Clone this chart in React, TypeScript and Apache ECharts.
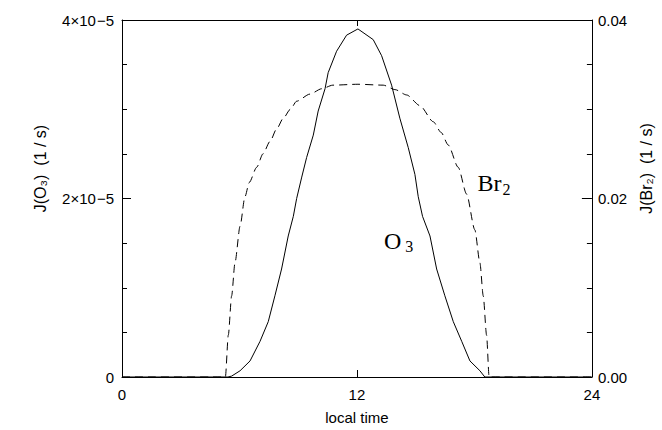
import React, { useEffect, useRef } from "react";
import * as echarts from "echarts";

// local time (h) and J(O3) in units of 1e-5 1/s
const o3Hours = [0, 5.41, 5.6, 6.03, 6.54, 7.05, 7.47, 7.81, 8.15, 8.49, 8.75, 8.92, 9.18, 9.43, 9.77, 10.02, 10.37, 10.53, 10.96, 11.47, 12.05, 12.83, 13.26, 13.77, 14.19, 14.62, 14.96, 15.13, 15.35, 15.73, 16.07, 16.49, 16.92, 17.35, 17.77, 18.28, 18.53, 24];
const o3Values = [0, 0, 0.01, 0.07, 0.18, 0.4, 0.62, 0.91, 1.21, 1.58, 1.8, 2.0, 2.24, 2.46, 2.71, 2.98, 3.23, 3.41, 3.65, 3.83, 3.9, 3.78, 3.6, 3.27, 2.9, 2.57, 2.27, 2.02, 1.8, 1.58, 1.21, 0.91, 0.62, 0.4, 0.18, 0.07, 0, 0];

// local time (h) and J(Br2) in 1/s
const br2Hours = [0, 5.28, 5.43, 5.6, 5.77, 6.03, 6.28, 6.5, 6.88, 7.2, 7.56, 7.9, 8.24, 8.6, 8.92, 9.6, 10.2, 10.77, 12.05, 13.34, 13.95, 14.54, 15.22, 15.9, 16.3, 16.66, 17.17, 17.6, 18.02, 18.28, 18.45, 18.62, 18.75, 24];
const br2Values = [0, 0, 0.0047, 0.0091, 0.0128, 0.0169, 0.0202, 0.0218, 0.0235, 0.025, 0.0264, 0.0278, 0.029, 0.03, 0.0309, 0.0317, 0.0323, 0.0327, 0.0328, 0.0327, 0.0322, 0.0316, 0.0304, 0.0286, 0.0274, 0.026, 0.0235, 0.0205, 0.0165, 0.0128, 0.0091, 0.0047, 0, 0];

const xTickValues = [0, 12, 24];
const o3AxisMax = 4;
const br2AxisMax = 0.04;

// annotation anchors [hour, value]
const br2LabelAt = [18.13, 0.0216];
const o3LabelAt = [13.35, 1.515];

const SANS = "Liberation Sans";
const SERIF = "Liberation Serif";

export default function App() {
  const ref = useRef<HTMLDivElement>(null);
  useEffect(() => {
    if (!ref.current) return;
    const chart = echarts.init(ref.current, null, { renderer: "svg" });
    const axisLine = { show: true, onZero: false, lineStyle: { color: "#000", width: 1 } };
    const tickLabel = { color: "#000", fontFamily: SANS, fontSize: 15 };
    const titleStyle = { color: "#000", fontFamily: SANS, fontSize: 16 };
    chart.setOption({
      animation: false,
      backgroundColor: "#fff",
      grid: { left: 122, right: 70, top: 20, bottom: 47, containLabel: false },
      xAxis: [
        {
          type: "value",
          min: 0,
          max: 24,
          interval: 12,
          position: "bottom",
          axisLine,
          axisTick: { show: true, inside: true, length: 7, lineStyle: { color: "#000" } },
          splitLine: { show: false },
          axisLabel: { ...tickLabel, margin: 10, formatter: (v: number) => (xTickValues.includes(v) ? String(v) : "") },
          name: "local time",
          nameLocation: "middle",
          nameGap: 33,
          nameTextStyle: { ...titleStyle, fontSize: 15 },
        },
        {
          type: "value",
          min: 0,
          max: 24,
          interval: 12,
          position: "top",
          axisLine,
          axisTick: { show: true, inside: true, length: 6, lineStyle: { color: "#000" } },
          splitLine: { show: false },
          axisLabel: { show: false },
        },
      ],
      yAxis: [
        {
          type: "value",
          min: 0,
          max: o3AxisMax,
          interval: 2,
          position: "left",
          axisLine,
          axisTick: { show: true, inside: true, length: 9, lineStyle: { color: "#000" } },
          minorTick: { show: true, splitNumber: 4, length: 5, lineStyle: { color: "#000" } },
          splitLine: { show: false },
          axisLabel: {
            ...tickLabel,
            margin: 8,
            formatter: (v: number) => (v === 0 ? "{z|0}" : `{m|${v}×10}{s|−5}`),
            rich: {
              z: { fontFamily: SANS, fontSize: 15, color: "#000" },
              m: { fontFamily: SANS, fontSize: 15, color: "#000", lineHeight: 15, padding: [9, 0, 9, 0] },
              s: { fontFamily: SANS, fontSize: 15, color: "#000", lineHeight: 15, verticalAlign: "top", padding: [0, 0, 0, 1] },
            },
          },
          name: "J(O₃)  (1 / s)",
          nameLocation: "middle",
          nameRotate: 90,
          nameGap: 74,
          nameTextStyle: { ...titleStyle, padding: [0, 0, 0, 60] },
        },
        {
          type: "value",
          min: 0,
          max: br2AxisMax,
          interval: 0.02,
          position: "right",
          axisLine,
          axisTick: { show: true, inside: true, length: 10, lineStyle: { color: "#000" } },
          minorTick: { show: true, splitNumber: 4, length: 5, lineStyle: { color: "#000" } },
          splitLine: { show: false },
          axisLabel: { ...tickLabel, margin: 6, formatter: (v: number) => v.toFixed(2) },
          name: "J(Br₂)  (1 / s)",
          nameLocation: "middle",
          nameRotate: 90,
          nameGap: 35,
          nameTextStyle: { ...titleStyle, padding: [0, 0, 0, 60] },
        },
      ],
      series: [
        {
          name: "O3",
          type: "line",
          xAxisIndex: 0,
          yAxisIndex: 0,
          showSymbol: false,
          symbol: "none",
          lineStyle: { color: "#000", width: 1 },
          data: o3Hours.map((h, i) => [h, o3Values[i]]),
          markPoint: {
            symbol: "circle",
            symbolSize: 1,
            itemStyle: { color: "rgba(0,0,0,0)" },
            label: {
              show: true,
              position: "right",
              distance: 0,
              formatter: "{a|O}{b|3}",
              rich: {
                a: { fontFamily: SERIF, fontSize: 24, color: "#000", lineHeight: 26, padding: [0, 0, 7, 0], verticalAlign: "top" },
                b: { fontFamily: SERIF, fontSize: 16, color: "#000", lineHeight: 16, verticalAlign: "bottom", padding: [0, 0, 0, 4] },
              },
            },
            data: [{ coord: o3LabelAt }],
          },
        },
        {
          name: "Br2",
          type: "line",
          xAxisIndex: 0,
          yAxisIndex: 1,
          showSymbol: false,
          symbol: "none",
          smooth: 0.25,
          smoothMonotone: "x",
          lineStyle: { color: "#000", width: 1, type: [8, 5] },
          data: br2Hours.map((h, i) => [h, br2Values[i]]),
          markPoint: {
            symbol: "circle",
            symbolSize: 1,
            itemStyle: { color: "rgba(0,0,0,0)" },
            label: {
              show: true,
              position: "right",
              distance: 0,
              formatter: "{a|Br}{b|2}",
              rich: {
                a: { fontFamily: SERIF, fontSize: 24, color: "#000", lineHeight: 26, padding: [0, 0, 15, 0], verticalAlign: "top" },
                b: { fontFamily: SERIF, fontSize: 16, color: "#000", lineHeight: 16, verticalAlign: "bottom", padding: [0, 0, 0, 1] },
              },
            },
            data: [{ coord: br2LabelAt }],
          },
        },
      ],
    });
    return () => chart.dispose();
  }, []);
  return <div ref={ref} style={{ position: "fixed", left: 0, top: 0, width: 662, height: 430 }} />;
}
